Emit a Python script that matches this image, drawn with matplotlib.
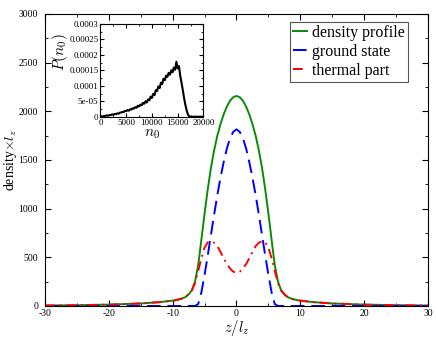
import matplotlib
matplotlib.use("Agg")
import matplotlib.pyplot as plt
from matplotlib.ticker import MultipleLocator

# main panel: z / l_z and density * l_z
z = [-30, -25, -20, -15, -12, -10, -9.5, -9, -8.5, -8, -7.5, -7, -6.5, -6,
     -5.5, -5, -4.5, -4, -3.5, -3, -2.5, -2, -1.5, -1, -0.5, 0,
     0.5, 1, 1.5, 2, 2.5, 3, 3.5, 4, 4.5, 5, 5.5, 6, 6.5, 7, 7.5, 8,
     8.5, 9, 9.5, 10, 12, 15, 20, 25, 30]
total = [5, 8, 14, 26, 40, 55, 60, 68, 78, 92, 120, 160, 250, 420,
         680, 950, 1200, 1420, 1600, 1750, 1870, 1970, 2050, 2110, 2145, 2158,
         2145, 2110, 2050, 1970, 1870, 1750, 1600, 1420, 1200, 950, 680, 420,
         250, 160, 120, 92, 78, 68, 60, 55, 40, 26, 14, 8, 5]
ground = [0, 0, 0, 0, 0, 0, 0, 0, 0, 0, 0, 0, 0, 20,
          140, 320, 520, 730, 940, 1140, 1320, 1480, 1620, 1725, 1790, 1815,
          1790, 1725, 1620, 1480, 1320, 1140, 940, 730, 520, 320, 140, 20,
          0, 0, 0, 0, 0, 0, 0, 0, 0, 0, 0, 0, 0]
thermal = [5, 8, 14, 26, 40, 55, 60, 68, 78, 92, 120, 160, 235, 360,
           490, 600, 655, 665, 650, 615, 555, 490, 430, 385, 352, 342,
           352, 385, 430, 490, 555, 615, 650, 665, 655, 600, 490, 360,
           235, 160, 120, 92, 78, 68, 60, 55, 40, 26, 14, 8, 5]

# inset: distribution of condensate number, P in units of 1e-5
n0 = [0, 250, 500, 750, 1000, 1250, 1500, 1750, 2000, 2250, 2500, 2750,
      3000, 3250, 3500, 3750, 4000, 4250, 4500, 4750, 5000, 5250, 5500,
      5750, 6000, 6250, 6500, 6750, 7000, 7250, 7500, 7750, 8000, 8250,
      8500, 8750, 9000, 9250, 9500, 9750, 10000, 10250, 10500, 10750,
      11000, 11250, 11500, 11750, 12000, 12250, 12500, 12750, 13000,
      13250, 13500, 13750, 14000, 14250, 14500, 14750, 15000, 15250,
      15500, 15750, 16000, 16250, 16500, 16750, 17000, 17250, 17500,
      18000, 19000, 20000]
p_n0 = [0.0, 0.15, 0.05, 0.3, 0.2, 0.45, 0.3, 0.55, 0.5, 0.75, 0.6, 0.9,
        0.8, 1.1, 0.95, 1.3, 1.35, 1.55, 1.5, 1.9, 1.8, 2.15, 1.95,
        2.4, 2.3, 2.75, 2.6, 3.1, 2.9, 3.55, 3.3, 3.9, 3.7, 4.5,
        4.2, 5.0, 4.6, 5.6, 5.3, 6.5, 6.1, 7.4, 7.0, 8.6,
        8.3, 9.8, 9.3, 11.0, 10.6, 12.3, 11.8, 13.3, 12.9,
        14.2, 13.6, 15.0, 14.4, 15.9, 15.2, 17.8, 15.6, 16.4,
        13.2, 11.0, 8.6, 6.0, 3.8, 2.0, 0.7, 0.1, 0.0,
        0.0, 0.0, 0.0]
inset_yticks = [0, 5e-5, 1e-4, 1.5e-4, 2e-4, 2.5e-4, 3e-4]
inset_ylabels = ["0", "5e-05", "0.0001", "0.00015", "0.0002", "0.00025", "0.0003"]

plt.rcParams["font.family"] = ["Liberation Serif", "DejaVu Serif"]
plt.rcParams["mathtext.fontset"] = "cm"
plt.rcParams["axes.unicode_minus"] = False

fig = plt.figure(figsize=(4.36, 3.37), dpi=100)
ax = fig.add_axes([0.1032, 0.092, 0.8784, 0.8665])

ax.plot(z, total, color="#0a8a0a", lw=1.4, label="density profile")
ax.plot(z, ground, color="#0000ff", lw=1.4, dashes=(7, 3.5), label="ground state")
ax.plot(z, thermal, color="#ff0000", lw=1.4, dashes=(5, 2.5, 1, 2.5), label="thermal part")

ax.set_xlim(-30, 30)
ax.set_ylim(0, 3000)
ax.xaxis.set_major_locator(MultipleLocator(10))
ax.xaxis.set_minor_locator(MultipleLocator(5))
ax.yaxis.set_major_locator(MultipleLocator(500))
ax.yaxis.set_minor_locator(MultipleLocator(250))
ax.tick_params(which="both", direction="in", top=True, right=True, labelsize=7)
ax.tick_params(axis="x", pad=2)
ax.tick_params(axis="y", pad=5)
ax.tick_params(which="major", length=4)
ax.tick_params(which="minor", length=2)
ax.set_xlabel(r"$z/l_z$", fontsize=10.5)
ax.xaxis.set_label_coords(0.5, -0.04)
ax.set_ylabel(r"density$\times l_z$", fontsize=10)
ax.yaxis.set_label_coords(-0.068, 0.5)

leg = ax.legend(loc="upper right", bbox_to_anchor=(0.948, 0.973), borderaxespad=0,
                fontsize=11.5, handlelength=0.9, handletextpad=0.3, borderpad=0.2,
                labelspacing=0.18, fancybox=False, framealpha=1)
leg.get_frame().set_edgecolor("#555555")
leg.get_frame().set_linewidth(0.8)

ins = fig.add_axes([0.2305, 0.6537, 0.236, 0.275])
ins.plot(n0, [p * 1e-5 for p in p_n0], color="black", lw=1.5)
ins.set_xlim(0, 20000)
ins.set_ylim(0, 3e-4)
ins.xaxis.set_major_locator(MultipleLocator(5000))
ins.xaxis.set_minor_locator(MultipleLocator(2500))
ins.set_yticks(inset_yticks, inset_ylabels)
ins.yaxis.set_minor_locator(MultipleLocator(2.5e-5))
ins.tick_params(which="both", direction="in", top=True, right=True, labelsize=6.5, pad=1.5)
ins.tick_params(which="major", length=3)
ins.tick_params(which="minor", length=1.5)
ins.set_xlabel(r"$n_0$", fontsize=11, va="top")
ins.xaxis.set_label_coords(0.5, -0.12)
ins.set_ylabel(r"$P(n_0)$", fontsize=11)
ins.yaxis.set_label_coords(-0.3, 0.7)

fig.savefig("out.png", dpi=100)
